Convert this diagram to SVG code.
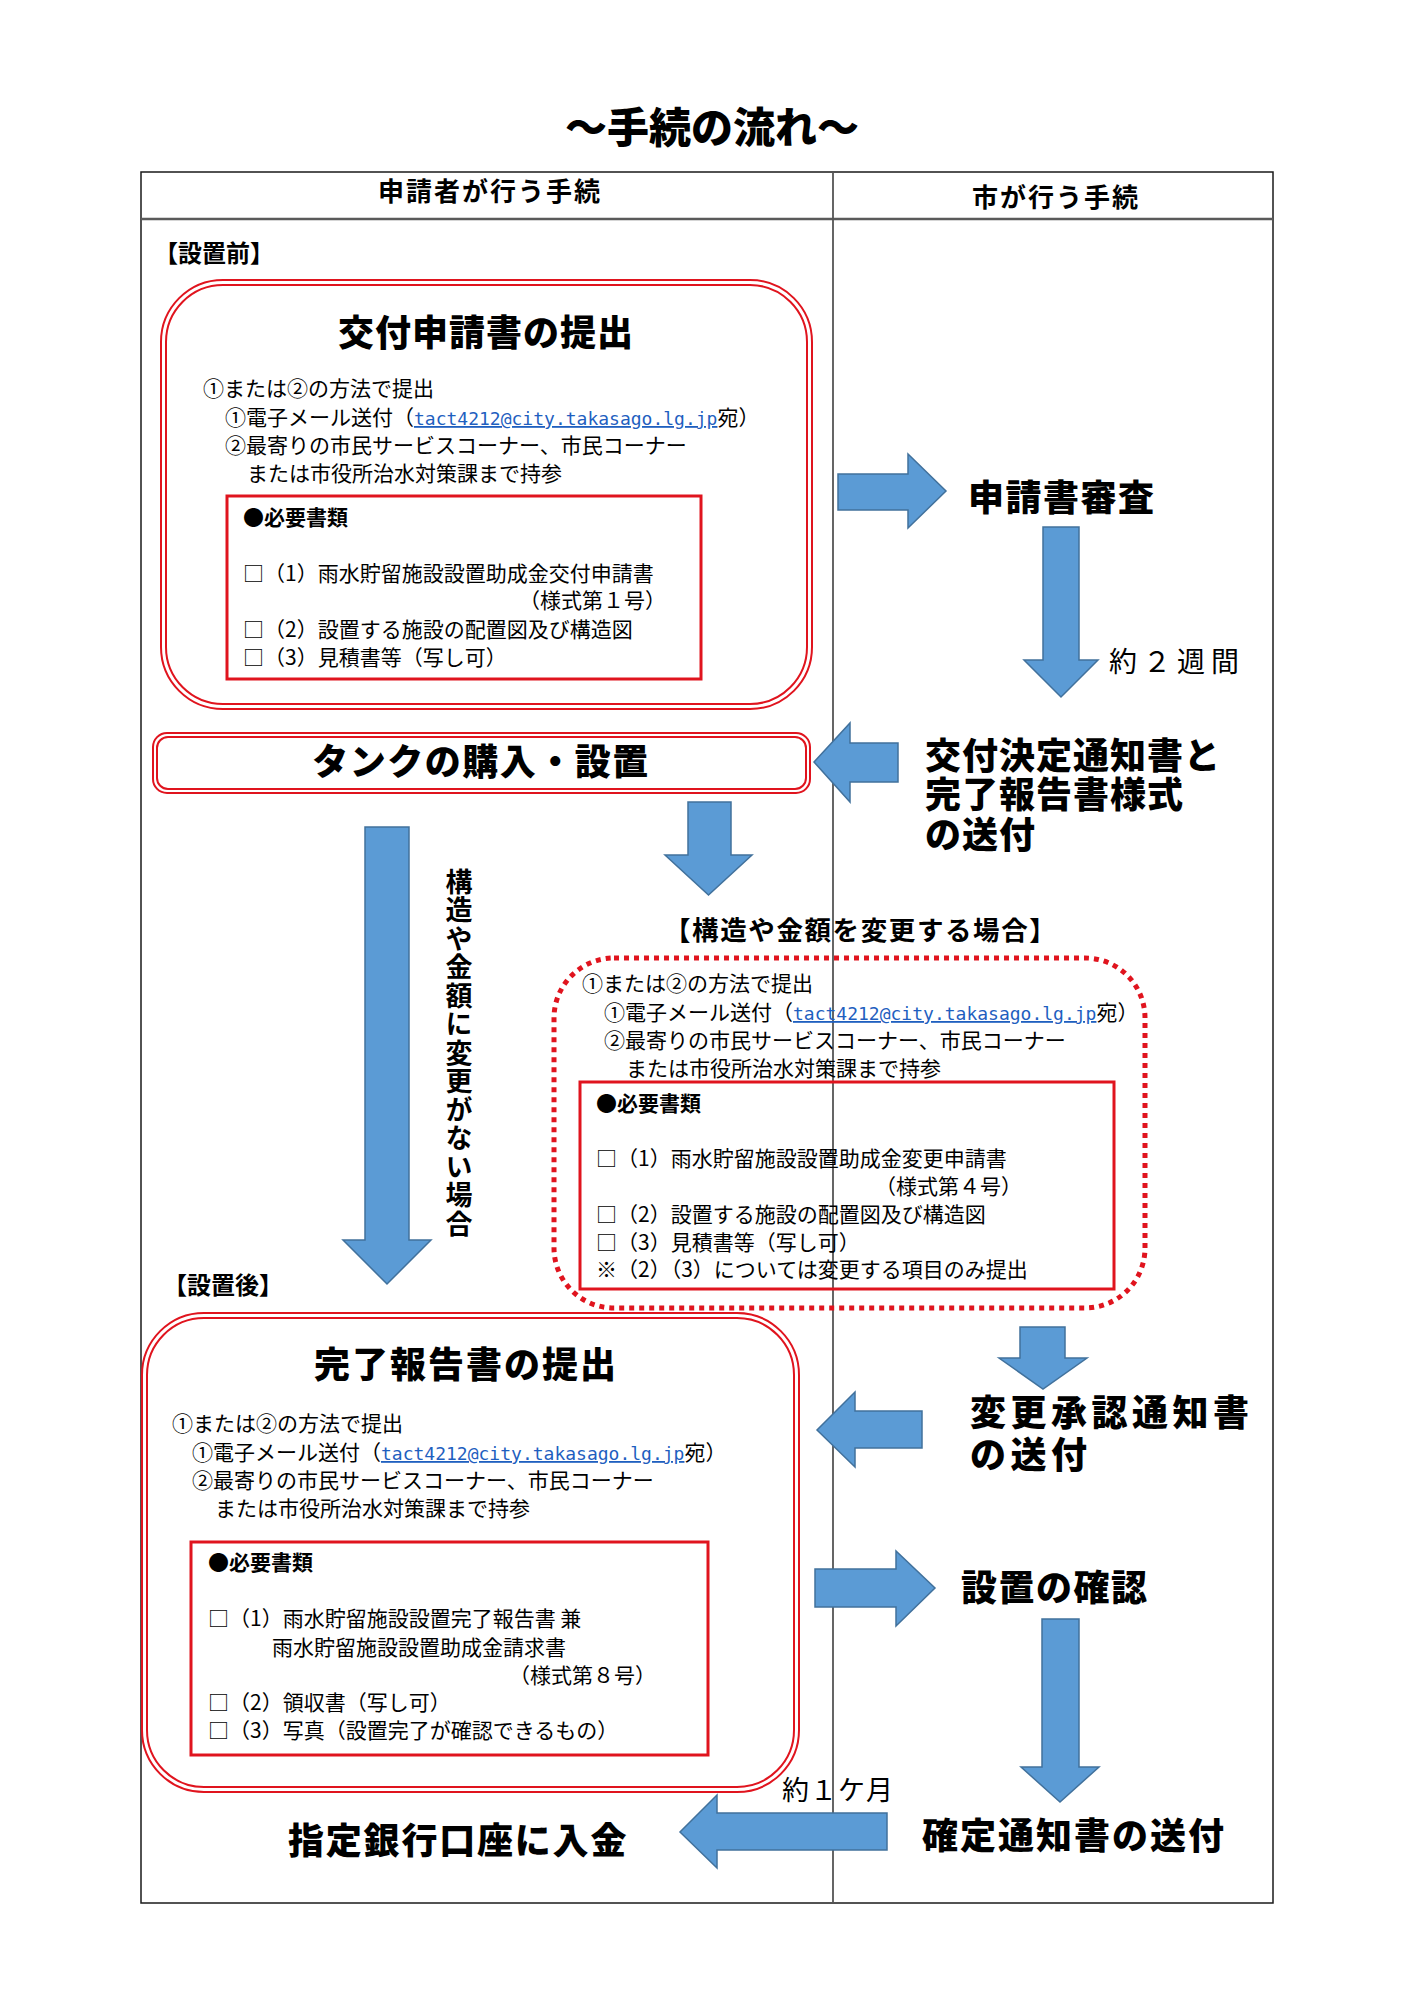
<svg xmlns="http://www.w3.org/2000/svg" width="1414" height="2000" viewBox="0 0 1414 2000">
<style>
text{font-family:'Noto Sans CJK JP','Noto Sans CJK SC',sans-serif;fill:#000}
.n{font-size:21px}
.b{font-weight:700}
.big{font-size:36px;font-weight:900}
.mail{font-family:'DejaVu Sans Mono','Liberation Mono',monospace;font-size:18px;fill:#1F5FBF;text-decoration:underline}
.arr{fill:#5B9BD5;stroke:#41719C;stroke-width:1.5}
.dbl{fill:none;stroke:#E0141E;stroke-width:2}
.inner{fill:none;stroke:#E0141E;stroke-width:3}
.grid{stroke:#1a1a1a;stroke-width:1.5;fill:none}
</style>
<rect width="1414" height="2000" fill="#fff"/>
<g id="title"><text x="712" y="143" text-anchor="middle" style="font-size:42px;font-weight:900">～手続の流れ～</text></g>
<g id="table">
<rect class="grid" x="141" y="172" width="1132" height="1731"/>
<line x1="141" y1="219" x2="1273" y2="219" stroke="#5a5a5a" stroke-width="2.5"/>
<line x1="833" y1="172" x2="833" y2="1903" stroke="#555" stroke-width="1.8"/>
<text x="490" y="201" text-anchor="middle" class="b" style="font-size:26px;letter-spacing:2px">申請者が行う手続</text>
<text x="1056" y="207" text-anchor="middle" class="b" style="font-size:26px;letter-spacing:2px">市が行う手続</text>
</g>
<g id="label-before"><text x="154" y="262" class="b" style="font-size:24px">【設置前】</text></g>
<g id="node-apply">
<rect class="dbl" x="161" y="280" width="651" height="429" rx="62"/>
<rect class="dbl" x="166" y="285" width="641" height="419" rx="57"/>
<text x="486" y="346" text-anchor="middle" class="big" style="letter-spacing:1px">交付申請書の提出</text>
<text x="203" y="396" class="n">①または②の方法で提出</text>
<text x="225" y="425" class="n">①電子メール送付（<tspan class="mail">tact4212@city.takasago.lg.jp</tspan>宛）</text>
<text x="225" y="453" class="n">②最寄りの市民サービスコーナー、市民コーナー</text>
<text x="247" y="481" class="n">または市役所治水対策課まで持参</text>
<rect class="inner" x="227" y="496" width="474" height="183"/>
<text x="243" y="525" class="n b">●必要書類</text>
<text x="243" y="581" class="n">□（1）雨水貯留施設設置助成金交付申請書</text>
<text x="666" y="608" class="n" text-anchor="end">（様式第１号）</text>
<text x="243" y="637" class="n">□（2）設置する施設の配置図及び構造図</text>
<text x="243" y="665" class="n">□（3）見積書等（写し可）</text>
</g>
<g id="node-review"><text x="968" y="511" class="big" style="letter-spacing:1.5px">申請書審査</text></g>
<g id="label-2weeks"><text x="1109" y="672" style="font-size:28px;letter-spacing:6px">約２週間</text></g>
<g id="node-notice">
<text class="big" style="letter-spacing:1px"><tspan x="925" y="769">交付決定通知書と</tspan><tspan x="925" y="808">完了報告書様式</tspan><tspan x="925" y="848">の送付</tspan></text>
</g>
<g id="node-tank">
<rect class="dbl" x="153" y="733" width="657" height="60" rx="14"/>
<rect class="dbl" x="157" y="737" width="649" height="52" rx="11"/>
<text x="481" y="775" text-anchor="middle" class="big" style="letter-spacing:1.5px">タンクの購入・設置</text>
</g>
<g id="label-nochange">
<text x="459" y="868" class="b" style="font-size:27px;letter-spacing:1.5px;writing-mode:vertical-rl">構造や金額に変更がない場合</text>
</g>
<g id="label-change"><text x="664" y="940" class="b" style="font-size:26.5px;letter-spacing:1.6px">【構造や金額を変更する場合】</text></g>
<g id="node-change">
<rect x="554" y="958" width="591" height="350" rx="60" fill="none" stroke="#E0141E" stroke-width="5" stroke-dasharray="5 5"/>
<text x="582" y="991" class="n">①または②の方法で提出</text>
<text x="604" y="1020" class="n">①電子メール送付（<tspan class="mail">tact4212@city.takasago.lg.jp</tspan>宛）</text>
<text x="604" y="1048" class="n">②最寄りの市民サービスコーナー、市民コーナー</text>
<text x="626" y="1076" class="n">または市役所治水対策課まで持参</text>
<rect class="inner" x="580" y="1082" width="534" height="207"/>
<text x="596" y="1111" class="n b">●必要書類</text>
<text x="596" y="1166" class="n">□（1）雨水貯留施設設置助成金変更申請書</text>
<text x="1022" y="1194" class="n" text-anchor="end">（様式第４号）</text>
<text x="596" y="1222" class="n">□（2）設置する施設の配置図及び構造図</text>
<text x="596" y="1250" class="n">□（3）見積書等（写し可）</text>
<text x="596" y="1277" class="n">※（2）（3）については変更する項目のみ提出</text>
</g>
<g id="label-after"><text x="163" y="1294" class="b" style="font-size:24px">【設置後】</text></g>
<g id="node-report">
<rect class="dbl" x="142" y="1313" width="657" height="479" rx="62"/>
<rect class="dbl" x="147" y="1318" width="647" height="469" rx="57"/>
<text x="466" y="1378" text-anchor="middle" class="big" style="letter-spacing:2px">完了報告書の提出</text>
<text x="172" y="1431" class="n">①または②の方法で提出</text>
<text x="192" y="1460" class="n">①電子メール送付（<tspan class="mail">tact4212@city.takasago.lg.jp</tspan>宛）</text>
<text x="192" y="1488" class="n">②最寄りの市民サービスコーナー、市民コーナー</text>
<text x="215" y="1516" class="n">または市役所治水対策課まで持参</text>
<rect class="inner" x="191" y="1542" width="517" height="213"/>
<text x="208" y="1570" class="n b">●必要書類</text>
<text x="208" y="1626" class="n">□（1）雨水貯留施設設置完了報告書 兼</text>
<text x="272" y="1655" class="n">雨水貯留施設設置助成金請求書</text>
<text x="656" y="1683" class="n" text-anchor="end">（様式第８号）</text>
<text x="208" y="1710" class="n">□（2）領収書（写し可）</text>
<text x="208" y="1738" class="n">□（3）写真（設置完了が確認できるもの）</text>
</g>
<g id="node-approval">
<text class="big" style="letter-spacing:4.5px"><tspan x="970" y="1426">変更承認通知書</tspan><tspan x="970" y="1468">の送付</tspan></text>
</g>
<g id="node-confirm"><text x="961" y="1601" class="big" style="letter-spacing:1.5px">設置の確認</text></g>
<g id="label-1month"><text x="782" y="1800" style="font-size:27px;letter-spacing:1px">約１ケ月</text></g>
<g id="node-final"><text x="922" y="1849" class="big" style="letter-spacing:2px">確定通知書の送付</text></g>
<g id="node-payment"><text x="288" y="1854" class="big" style="letter-spacing:1.8px">指定銀行口座に入金</text></g>
<g id="connectors">
<polygon class="arr" points="838,474 908,474 908,454 946,491 908,528 908,510 838,510"/>
<polygon class="arr" points="1043,527 1079,527 1079,660 1098,660 1061,697 1024,660 1043,660"/>
<polygon class="arr" points="898,743 850,743 850,723 814,762 850,802 850,782 898,782"/>
<polygon class="arr" points="688,802 731,802 731,855 752,855 708.5,895 665,855 688,855"/>
<polygon class="arr" points="365,827 409,827 409,1240 431,1240 387,1284 343,1240 365,1240"/>
<polygon class="arr" points="1020,1327 1065,1327 1065,1358 1087,1358 1043,1389 999,1358 1020,1358"/>
<polygon class="arr" points="922,1411 855,1411 855,1392 817,1430 855,1467 855,1448 922,1448"/>
<polygon class="arr" points="815,1569 896,1569 896,1551 935,1588 896,1626 896,1607 815,1607"/>
<polygon class="arr" points="1042,1619 1079,1619 1079,1767 1099,1767 1060,1802 1021,1767 1042,1767"/>
<polygon class="arr" points="887,1813 717,1813 717,1795 680,1832 717,1868 717,1850 887,1850"/>
</g>
</svg>
